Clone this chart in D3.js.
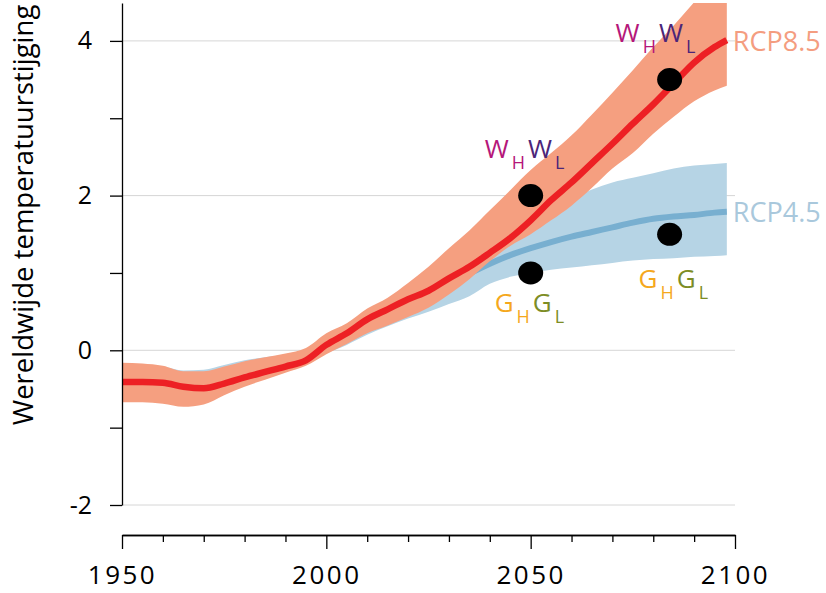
<!DOCTYPE html>
<html lang="nl">
<head>
<meta charset="UTF-8">
<title>Wereldwijde temperatuurstijging - RCP4.5 en RCP8.5</title>
<script src="https://d3js.org/d3.v7.min.js"></script>
<style>
    body { margin: 0; background: #fff; font-family: "Open Sans", sans-serif; }
    .grid line { stroke: #d6d6d6; stroke-width: 1; }
    .axis path, .axis line { stroke: #000; stroke-width: 1.3; }
    .axis text { font-family: "Open Sans", sans-serif; fill: #000; }
</style>
</head>
<body>
<svg width="826" height="593"></svg>
<script>
const years = [1950, 1955, 1960, 1965, 1970, 1975, 1980, 1985, 1990, 1995,
    2000, 2005, 2010, 2015, 2020, 2025, 2030, 2035, 2040, 2045,
    2050, 2055, 2060, 2065, 2070, 2075, 2080, 2085, 2090, 2095, 2098];

// RCP8.5: gemiddelde en bandbreedte
const rcp85Mean = [-0.41, -0.41, -0.42, -0.47, -0.49, -0.43, -0.35, -0.28, -0.21, -0.13,
    0.07, 0.22, 0.40, 0.53, 0.66, 0.77, 0.93, 1.08, 1.26, 1.45,
    1.68, 1.94, 2.17, 2.42, 2.67, 2.93, 3.18, 3.45, 3.72, 3.92, 4.01];
const rcp85Hi = [-0.16, -0.17, -0.20, -0.27, -0.27, -0.21, -0.14, -0.09, -0.04, 0.03,
    0.22, 0.35, 0.54, 0.68, 0.87, 1.08, 1.32, 1.55, 1.81, 2.07,
    2.33, 2.55, 2.78, 3.05, 3.33, 3.62, 3.92, 4.20, 4.50, 4.80, 4.95];
const rcp85Lo = [-0.67, -0.67, -0.69, -0.73, -0.70, -0.58, -0.47, -0.38, -0.29, -0.20,
    -0.05, 0.08, 0.22, 0.32, 0.43, 0.55, 0.72, 0.92, 1.15, 1.35,
    1.50, 1.68, 1.87, 2.10, 2.35, 2.55, 2.80, 3.02, 3.22, 3.36, 3.42];

// RCP4.5: gemiddelde en bandbreedte
const rcp45Mean = [-0.41, -0.41, -0.42, -0.47, -0.49, -0.43, -0.35, -0.28, -0.21, -0.13,
    0.07, 0.22, 0.39, 0.51, 0.62, 0.72, 0.84, 0.99, 1.12, 1.23,
    1.32, 1.40, 1.47, 1.53, 1.59, 1.65, 1.70, 1.73, 1.75, 1.78, 1.79];
const rcp45Hi = [-0.18, -0.19, -0.21, -0.26, -0.25, -0.19, -0.13, -0.09, -0.05, 0.02,
    0.20, 0.32, 0.48, 0.60, 0.76, 0.92, 1.10, 1.27, 1.44, 1.60,
    1.74, 1.86, 1.97, 2.08, 2.17, 2.23, 2.29, 2.35, 2.39, 2.41, 2.42];
const rcp45Lo = [-0.64, -0.64, -0.66, -0.71, -0.67, -0.56, -0.45, -0.36, -0.27, -0.18,
    -0.04, 0.07, 0.20, 0.31, 0.41, 0.50, 0.60, 0.70, 0.86, 0.95,
    1.00, 1.04, 1.07, 1.10, 1.13, 1.16, 1.18, 1.19, 1.21, 1.22, 1.23];

// KNMI-scenario's (punten)
const scenYears = [2050, 2050, 2084, 2084];
const scenValues = [2.0, 1.0, 3.5, 1.5];
const scenNames = [["W", "H", "W", "L"], ["G", "H", "G", "L"], ["W", "H", "W", "L"], ["G", "H", "G", "L"]];

// assen
const xMajor = [1950, 2000, 2050, 2100];
const xMinor = [1960, 1970, 1980, 1990, 2010, 2020, 2030, 2040, 2060, 2070, 2080, 2090];
const yTicks = [-2, -1, 0, 1, 2, 3, 4];
const yLabels = [-2, 0, 2, 4];

const svg = d3.select("svg");

const x = d3.scaleLinear().domain([1950, 2100]).range([122, 735]);
const y = d3.scaleLinear().domain([-2, 4.49]).range([505, 3]);

svg.append("clipPath").attr("id", "plot")
    .append("rect")
    .attr("x", x(1950)).attr("y", y(4.49))
    .attr("width", x(2100) - x(1950)).attr("height", y(-2) - y(4.49));

// rasterlijnen
svg.append("g").attr("class", "grid")
    .selectAll("line").data(yLabels).enter().append("line")
    .attr("x1", x(1950)).attr("x2", x(2100))
    .attr("y1", d => y(d)).attr("y2", d => y(d));

const rows = years.map((yr, i) => ({
    year: yr,
    m85: rcp85Mean[i], hi85: rcp85Hi[i], lo85: rcp85Lo[i],
    m45: rcp45Mean[i], hi45: rcp45Hi[i], lo45: rcp45Lo[i]
}));

const curve = d3.curveMonotoneX;
const plot = svg.append("g").attr("clip-path", "url(#plot)");

plot.append("path").datum(rows)
    .attr("fill", "#b6d4e5")
    .attr("d", d3.area().curve(curve).x(d => x(d.year)).y0(d => y(d.lo45)).y1(d => y(d.hi45)));

plot.append("path").datum(rows)
    .attr("fill", "none").attr("stroke", "#78afd0").attr("stroke-width", 6)
    .attr("d", d3.line().curve(curve).x(d => x(d.year)).y(d => y(d.m45)));

plot.append("path").datum(rows)
    .attr("fill", "#f59f80")
    .attr("d", d3.area().curve(curve).x(d => x(d.year)).y0(d => y(d.lo85)).y1(d => y(d.hi85)));

plot.append("path").datum(rows)
    .attr("fill", "none").attr("stroke", "#ed2024").attr("stroke-width", 6.5)
    .attr("d", d3.line().curve(curve).x(d => x(d.year)).y(d => y(d.m85)));

// y-as
const yAxis = svg.append("g").attr("class", "axis")
    .attr("transform", `translate(${x(1950)},0)`)
    .call(d3.axisLeft(y).tickValues(yTicks).tickSize(12).tickSizeOuter(0).tickPadding(18)
        .tickFormat(d => yLabels.includes(d) ? String(d) : ""));
yAxis.selectAll("text").attr("font-size", 25);

// x-as, los onder de grafiek
const xAxisY = 535;
svg.append("g").attr("class", "axis")
    .attr("transform", `translate(0,${xAxisY})`)
    .call(d3.axisBottom(x).tickValues(xMinor).tickSize(7).tickSizeOuter(0).tickFormat(""));
const xAxis = svg.append("g").attr("class", "axis")
    .attr("transform", `translate(0,${xAxisY})`)
    .call(d3.axisBottom(x).tickValues(xMajor).tickSize(14).tickSizeOuter(0).tickPadding(17)
        .tickFormat(d3.format("d")));
xAxis.selectAll("text").attr("font-size", 26).attr("letter-spacing", 2.5);

// astitel
svg.append("text")
    .attr("transform", `translate(33,${y(1.75)}) rotate(-90)`)
    .attr("text-anchor", "middle")
    .attr("font-size", 27.5)
    .attr("fill", "#000")
    .text("Wereldwijde temperatuurstijging");

// scenario-namen aan het eind van de lijnen
const last = rows[rows.length - 1];
svg.append("text")
    .attr("x", x(last.year) + 6).attr("y", y(last.m85))
    .attr("dominant-baseline", "central")
    .attr("font-size", 27).attr("fill", "#f49d80")
    .text("RCP8.5");
svg.append("text")
    .attr("x", x(last.year) + 6).attr("y", y(last.m45))
    .attr("dominant-baseline", "central")
    .attr("font-size", 27).attr("fill", "#a9c8dc")
    .text("RCP4.5");

// punten
svg.selectAll(".scen").data(scenYears).enter().append("ellipse")
    .attr("class", "scen")
    .attr("cx", (d, i) => x(d)).attr("cy", (d, i) => y(scenValues[i]))
    .attr("rx", 12.5).attr("ry", 11.5)
    .attr("fill", "#000");

// labels bij de punten
const labelColors = {
    W: ["#b5177a", "#4b2579"],
    G: ["#f5a81d", "#7d8d25"]
};
const labelOffset = [[-46, -38], [-36, 39], [-54, -38], [-31, 54]];

scenYears.forEach((yr, i) => {
    const name = scenNames[i];
    const cols = labelColors[name[0]];
    const t = svg.append("text")
        .attr("x", x(yr) + labelOffset[i][0])
        .attr("y", y(scenValues[i]) + labelOffset[i][1])
        .attr("letter-spacing", 3);
    t.append("tspan").attr("font-size", 26).attr("fill", cols[0]).text(name[0]);
    t.append("tspan").attr("font-size", 18).attr("fill", cols[0]).attr("dy", 11).text(name[1]);
    t.append("tspan").attr("font-size", 26).attr("fill", cols[1]).attr("dy", -11).text(name[2]);
    t.append("tspan").attr("font-size", 18).attr("fill", cols[1]).attr("dy", 11).text(name[3]);
});
</script>
</body>
</html>
